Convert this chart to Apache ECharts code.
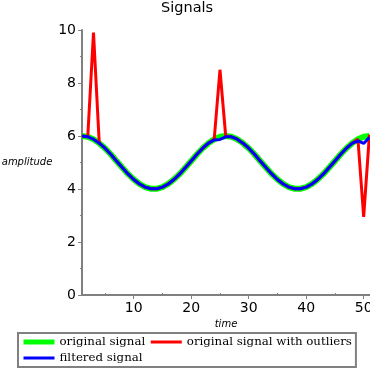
<!DOCTYPE html>
<html>
<head>
<meta charset="utf-8">
<script src="https://cdn.jsdelivr.net/npm/echarts@6/dist/echarts.min.js"></script>
<style>
html,body{margin:0;padding:0;background:#fff;}
#c{width:370px;height:370px;}
</style>
</head>
<body>
<div id="c"></div>
<script>
const time = [1,2,3,4,5,6,7,8,9,10,11,12,13,14,15,16,17,18,19,20,21,22,23,24,25,26,27,28,29,30,31,32,33,34,35,36,37,38,39,40,41,42,43,44,45,46,47,48,49,50,51];
const originalSignal = [6.00,5.97,5.88,5.73,5.54,5.31,5.06,4.81,4.57,4.36,4.19,4.07,4.01,4.01,4.07,4.19,4.36,4.57,4.81,5.06,5.31,5.54,5.73,5.88,5.97,6.00,5.97,5.88,5.73,5.54,5.31,5.06,4.81,4.57,4.36,4.19,4.07,4.01,4.01,4.07,4.19,4.36,4.57,4.81,5.06,5.31,5.54,5.73,5.88,5.97,6.00];
const signalWithOutliers = [6.00,5.97,9.90,5.73,5.54,5.31,5.06,4.81,4.57,4.36,4.19,4.07,4.01,4.01,4.07,4.19,4.36,4.57,4.81,5.06,5.31,5.54,5.73,5.88,8.50,6.00,5.97,5.88,5.73,5.54,5.31,5.06,4.81,4.57,4.36,4.19,4.07,4.01,4.01,4.07,4.19,4.36,4.57,4.81,5.06,5.31,5.54,5.73,5.88,2.95,6.05];
const filteredSignal = [6.00,5.97,5.88,5.73,5.54,5.31,5.06,4.81,4.57,4.36,4.19,4.07,4.01,4.01,4.07,4.19,4.36,4.57,4.81,5.06,5.31,5.54,5.73,5.85,5.87,5.97,5.97,5.88,5.73,5.54,5.31,5.06,4.81,4.57,4.36,4.19,4.07,4.01,4.01,4.07,4.19,4.36,4.57,4.81,5.06,5.31,5.54,5.72,5.82,5.72,5.95];
const xTickLabels = [10,20,30,40,50];
const xMinorTicks = [5,15,25,35,45];

const pairs = ys => time.map((t,i)=>[t, ys[i]]);
const AX = '#808080';
const sans = 'DejaVu Sans';
const noSym = {opacity: 0, color: 'transparent', borderColor: 'transparent'};

const chart = echarts.init(document.getElementById('c'));
chart.setOption({
  animation: false,
  backgroundColor: '#fff',
  title: {
    text: 'Signals', left: 161, top: 1, padding: 0,
    textStyle: {fontFamily: sans, fontSize: 14.5, fontWeight: 'normal', color: '#000'}
  },
  grid: {left: 82, right: 0, top: 30, bottom: 75, containLabel: false, outerBoundsMode: 'none'},
  xAxis: [{
    type: 'value', min: 1, max: 51.1,
    name: 'time', nameLocation: 'middle', nameGap: 24,
    nameTextStyle: {fontFamily: sans, fontSize: 10, fontStyle: 'italic', color: '#000'},
    axisLine: {show: true, onZero: false, lineStyle: {color: AX, width: 2}},
    axisTick: {show: true, length: 4, customValues: xTickLabels, lineStyle: {color: AX, width: 1}},
    axisLabel: {customValues: xTickLabels, fontFamily: sans, fontSize: 14, color: '#000', margin: 6},
    splitLine: {show: false}
  },{
    type: 'value', min: 1, max: 51.1, position: 'top', offset: -265,
    axisLine: {show: false},
    axisTick: {show: true, length: 2, customValues: xMinorTicks, lineStyle: {color: AX, width: 1}},
    axisLabel: {show: false},
    splitLine: {show: false}
  }],
  yAxis: {
    type: 'value', min: 0, max: 10, interval: 2,
    name: 'amplitude', nameLocation: 'middle', nameRotate: 0, nameGap: 29,
    nameTextStyle: {fontFamily: sans, fontSize: 10, fontStyle: 'italic', color: '#000'},
    axisLine: {show: true, lineStyle: {color: AX, width: 2}},
    axisTick: {show: true, length: 4, lineStyle: {color: AX, width: 1}},
    minorTick: {show: true, splitNumber: 2, length: 2, lineStyle: {color: AX, width: 1}},
    axisLabel: {fontFamily: sans, fontSize: 14, color: '#000', margin: 6},
    splitLine: {show: false}
  },
  legend: {
    left: 18, top: 333, width: 345, orient: 'horizontal',
    padding: [3, 4, 3, 3], itemGap: 4, itemWidth: 31, itemHeight: 12,
    borderColor: AX, borderWidth: 2, borderRadius: 0,
    textStyle: {fontFamily: 'DejaVu Serif', fontSize: 11.8, lineHeight: 12, color: '#000'},
    data: [
      {name: 'original signal', itemStyle: noSym, lineStyle: {width: 5}},
      {name: 'original signal with outliers', itemStyle: noSym, lineStyle: {width: 3}},
      {name: 'filtered signal', itemStyle: noSym, lineStyle: {width: 3}}
    ]
  },
  series: [
    {name: 'original signal', type: 'line', symbol: 'none', xAxisIndex: 0,
     data: pairs(originalSignal), color: '#00ff00', lineStyle: {width: 6, color: '#00ff00'}},
    {name: 'original signal with outliers', type: 'line', symbol: 'none', xAxisIndex: 0,
     data: pairs(signalWithOutliers), color: '#ff0000', lineStyle: {width: 3, color: '#ff0000'}},
    {name: 'filtered signal', type: 'line', symbol: 'none', xAxisIndex: 0,
     data: pairs(filteredSignal), color: '#0000ff', lineStyle: {width: 3, color: '#0000ff'}}
  ]
});
</script>
</body>
</html>
